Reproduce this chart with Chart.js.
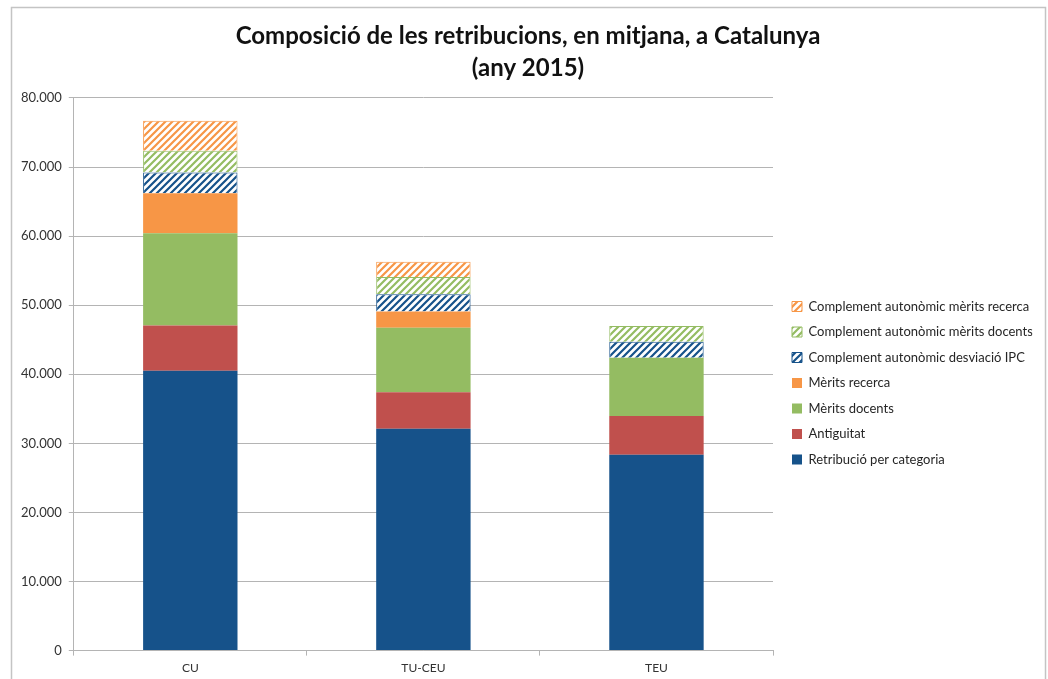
<!DOCTYPE html>
<html>
<head>
<meta charset="utf-8">
<script src="https://cdn.jsdelivr.net/npm/chart.js@4.4.1/dist/chart.umd.min.js"></script>
<style>
  html, body { margin: 0; padding: 0; background: #fff; }
</style>
</head>
<body>
<canvas id="chart" width="1048" height="679"></canvas>
<script>
// categories and series (values in euros)
const categories = ['CU', 'TU-CEU', 'TEU'];
const retribucioCategoria = [40500, 32100, 28350];
const antiguitat = [6550, 5300, 5600];
const meritsDocents = [13350, 9350, 8450];
const meritsRecerca = [5800, 2350, null];
const complementIPC = [3000, 2500, 2300];
const complementDocents = [3150, 2500, 2300];
const complementRecerca = [4350, 2200, null];

const titleLines = ['Composició de les retribucions, en mitjana, a Catalunya', '(any 2015)'];

const BLUE = '#16528A';
const RED = '#C0504D';
const GREEN = '#94BC62';
const ORANGE = '#F79646';
const GRID = '#B4B4B4';

// diagonal "/" hatch on white
function hatch(color) {
    const s = 7;
    const c = document.createElement('canvas');
    c.width = s;
    c.height = s;
    const g = c.getContext('2d');
    g.fillStyle = '#fff';
    g.fillRect(0, 0, s, s);
    g.strokeStyle = color;
    g.lineWidth = 2.2;
    g.beginPath();
    g.moveTo(0, s); g.lineTo(s, 0);
    g.moveTo(-s / 2, s / 2); g.lineTo(s / 2, -s / 2);
    g.moveTo(s / 2, s * 1.5); g.lineTo(s * 1.5, s / 2);
    g.stroke();
    return g.createPattern(c, 'repeat');
}

const thousands = v => String(v).replace(/\B(?=(\d{3})+(?!\d))/g, '.');

// white background, outer frame, legend and title placement
const framePlugin = {
    id: 'frame',
    beforeDraw(chart) {
        const ctx = chart.ctx;
        ctx.save();
        ctx.fillStyle = '#fff';
        ctx.fillRect(0, 0, chart.width, chart.height);
        ctx.strokeStyle = '#C4C4C4';
        ctx.lineWidth = 1.5;
        ctx.strokeRect(11.5, 7.5, 1034, 700);
        ctx.restore();
    },
    afterLayout(chart) {
        const lg = chart.legend;
        const pad = lg.options.labels.padding;
        const dx = 792 - (lg.left + pad);
        lg.left += dx;
        lg.right += dx;
        const dy = 300 - (lg.top + pad);
        lg.top += dy;
        lg.bottom += dy;

        const tb = chart.titleBlock;
        const tx = 528 - (tb.left + tb.right) / 2;
        tb.left += tx;
        tb.right += tx;
    }
};

const ctx = document.getElementById('chart').getContext('2d');

new Chart(ctx, {
    type: 'bar',
    data: {
        labels: categories,
        datasets: [{
            label: 'Retribució per categoria',
            data: retribucioCategoria,
            backgroundColor: BLUE,
            borderWidth: 0
        }, {
            label: 'Antiguitat',
            data: antiguitat,
            backgroundColor: RED,
            borderWidth: 0
        }, {
            label: 'Mèrits docents',
            data: meritsDocents,
            backgroundColor: GREEN,
            borderWidth: 0
        }, {
            label: 'Mèrits recerca',
            data: meritsRecerca,
            backgroundColor: ORANGE,
            borderWidth: 0
        }, {
            label: 'Complement autonòmic desviació IPC',
            data: complementIPC,
            backgroundColor: hatch(BLUE),
            borderColor: BLUE,
            borderWidth: 1
        }, {
            label: 'Complement autonòmic mèrits docents',
            data: complementDocents,
            backgroundColor: hatch(GREEN),
            borderColor: GREEN,
            borderWidth: 1
        }, {
            label: 'Complement autonòmic mèrits recerca',
            data: complementRecerca,
            backgroundColor: hatch(ORANGE),
            borderColor: ORANGE,
            borderWidth: 1
        }]
    },
    options: {
        responsive: false,
        animation: false,
        datasets: {
            bar: {
                barPercentage: 0.405,
                categoryPercentage: 1
            }
        },
        layout: {
            padding: { left: 14, right: 22, top: 0, bottom: -1 }
        },
        scales: {
            x: {
                stacked: true,
                grid: {
                    display: true,
                    drawOnChartArea: false,
                    drawTicks: true,
                    tickLength: 5,
                    color: GRID,
                    offset: true
                },
                border: { color: GRID },
                ticks: {
                    color: '#333',
                    padding: 5,
                    font: { family: 'Lato', size: 12 }
                }
            },
            y: {
                stacked: true,
                min: 0,
                max: 80000,
                ticks: {
                    stepSize: 10000,
                    color: '#333',
                    padding: 7,
                    font: { family: 'Lato', size: 13 },
                    callback: v => thousands(v)
                },
                grid: {
                    color: GRID,
                    tickLength: 5
                },
                border: { color: GRID }
            }
        },
        plugins: {
            title: {
                display: true,
                text: titleLines,
                color: '#111',
                font: { family: 'Lato', size: 24, weight: 'bold', lineHeight: 1.333 },
                padding: { top: 20, bottom: 14 }
            },
            legend: {
                position: 'right',
                align: 'start',
                reverse: true,
                labels: {
                    boxWidth: 10,
                    boxHeight: 10,
                    padding: 12.5,
                    color: '#262626',
                    font: { family: 'Lato', size: 13 }
                }
            },
            tooltip: { enabled: false }
        }
    },
    plugins: [framePlugin]
});
</script>
</body>
</html>
